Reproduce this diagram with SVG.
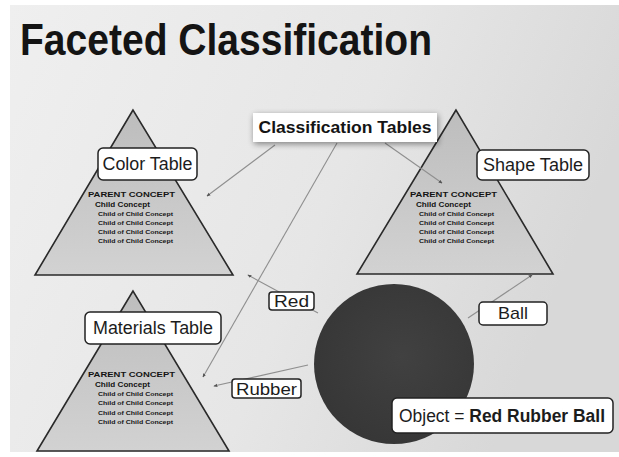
<svg xmlns="http://www.w3.org/2000/svg" width="619" height="457" viewBox="0 0 619 457">
<defs>
<linearGradient id="bg" x1="0" y1="0" x2="1" y2="0.3">
<stop offset="0" stop-color="#efefef"/>
<stop offset="0.6" stop-color="#e6e6e6"/>
<stop offset="1" stop-color="#d8d8d8"/>
</linearGradient>
<linearGradient id="tri" x1="0" y1="0" x2="0" y2="1">
<stop offset="0" stop-color="#bdbdbd"/>
<stop offset="1" stop-color="#d2d2d2"/>
</linearGradient>
<radialGradient id="ball" cx="0.55" cy="0.45" r="0.6">
<stop offset="0" stop-color="#414141"/>
<stop offset="1" stop-color="#363636"/>
</radialGradient>
<filter id="shadow" x="-20%" y="-50%" width="140%" height="200%">
<feGaussianBlur in="SourceAlpha" stdDeviation="3"/>
<feOffset dx="1" dy="2" result="b"/>
<feComponentTransfer><feFuncA type="linear" slope="0.45"/></feComponentTransfer>
<feMerge><feMergeNode/><feMergeNode in="SourceGraphic"/></feMerge>
</filter>
<marker id="arr" viewBox="0 0 6 6" refX="5" refY="3" markerWidth="4" markerHeight="4" orient="auto" markerUnits="userSpaceOnUse">
<path d="M0,0.5 L6,3 L0,5.5 z" fill="#555"/>
</marker>
</defs>
<style>
.tri{fill:url(#tri);stroke:#2a2a2a;stroke-width:1.6}
.lbl{fill:#fff;stroke:#222;stroke-width:1.5}
.lt{font-family:"Liberation Sans",Arial,sans-serif;fill:#1c1c1c}
.tt{font-family:"Liberation Sans",Arial,sans-serif;font-weight:bold;fill:#141414}
.con{stroke:#8f8f8f;stroke-width:1.1;fill:none;marker-end:url(#arr)}
</style>
<rect x="0" y="0" width="619" height="457" fill="#fff"/>
<rect x="10" y="5" width="609" height="447" fill="url(#bg)"/>
<text id="title" x="20" y="55" class="tt" font-size="44" textLength="412" lengthAdjust="spacingAndGlyphs">Faceted Classification</text>

<g id="color-triangle">
<polygon class="tri" points="133,110 35,275 233,275"/>
<text class="tt" x="88" y="197" font-size="7" textLength="87" lengthAdjust="spacingAndGlyphs">PARENT CONCEPT</text>
<text class="tt" x="95" y="207" font-size="6.5" textLength="55" lengthAdjust="spacingAndGlyphs">Child Concept</text>
<text class="tt" x="98" y="216" font-size="6" textLength="75" lengthAdjust="spacingAndGlyphs">Child of Child Concept</text>
<text class="tt" x="98" y="225" font-size="6" textLength="75" lengthAdjust="spacingAndGlyphs">Child of Child Concept</text>
<text class="tt" x="98" y="234" font-size="6" textLength="75" lengthAdjust="spacingAndGlyphs">Child of Child Concept</text>
<text class="tt" x="98" y="243" font-size="6" textLength="75" lengthAdjust="spacingAndGlyphs">Child of Child Concept</text>
</g>

<g id="shape-triangle">
<polygon class="tri" points="456,110 357,274 553,274"/>
<text class="tt" x="410" y="197" font-size="7" textLength="87" lengthAdjust="spacingAndGlyphs">PARENT CONCEPT</text>
<text class="tt" x="416" y="207" font-size="6.5" textLength="55" lengthAdjust="spacingAndGlyphs">Child Concept</text>
<text class="tt" x="419" y="216" font-size="6" textLength="75" lengthAdjust="spacingAndGlyphs">Child of Child Concept</text>
<text class="tt" x="419" y="225" font-size="6" textLength="75" lengthAdjust="spacingAndGlyphs">Child of Child Concept</text>
<text class="tt" x="419" y="234" font-size="6" textLength="75" lengthAdjust="spacingAndGlyphs">Child of Child Concept</text>
<text class="tt" x="419" y="243" font-size="6" textLength="75" lengthAdjust="spacingAndGlyphs">Child of Child Concept</text>
</g>

<g id="materials-triangle">
<polygon class="tri" points="133,291 37,451 229,451"/>
<text class="tt" x="88" y="377" font-size="7" textLength="87" lengthAdjust="spacingAndGlyphs">PARENT CONCEPT</text>
<text class="tt" x="95" y="387" font-size="6.5" textLength="55" lengthAdjust="spacingAndGlyphs">Child Concept</text>
<text class="tt" x="98" y="396" font-size="6" textLength="75" lengthAdjust="spacingAndGlyphs">Child of Child Concept</text>
<text class="tt" x="98" y="405" font-size="6" textLength="75" lengthAdjust="spacingAndGlyphs">Child of Child Concept</text>
<text class="tt" x="98" y="415" font-size="6" textLength="75" lengthAdjust="spacingAndGlyphs">Child of Child Concept</text>
<text class="tt" x="98" y="424" font-size="6" textLength="75" lengthAdjust="spacingAndGlyphs">Child of Child Concept</text>
</g>

<g id="object-ball">
<circle cx="394" cy="364" r="80" fill="url(#ball)"/>
</g>

<g id="connectors">
<line class="con" x1="275" y1="145" x2="207" y2="196"/>
<line class="con" x1="337" y1="143" x2="203" y2="377"/>
<line class="con" x1="385" y1="143" x2="442" y2="183"/>
<line class="con" x1="318" y1="313" x2="248" y2="275"/>
<line class="con" x1="308" y1="365" x2="214" y2="386"/>
<line class="con" x1="468" y1="318" x2="532" y2="275"/>
</g>

<g id="classification-tables">
<rect x="253" y="113" width="184" height="29" fill="#fff" filter="url(#shadow)"/>
<text class="tt" x="345" y="133" font-size="17" text-anchor="middle" textLength="173" lengthAdjust="spacingAndGlyphs">Classification Tables</text>
</g>

<g id="color-table">
<rect class="lbl" x="98" y="148" width="99" height="32" rx="5"/>
<text class="lt" x="147.5" y="170" font-size="17.5" text-anchor="middle" textLength="90" lengthAdjust="spacingAndGlyphs">Color Table</text>
</g>

<g id="shape-table">
<rect class="lbl" x="477" y="150" width="112" height="30" rx="5"/>
<text class="lt" x="533" y="171" font-size="17.5" text-anchor="middle" textLength="100" lengthAdjust="spacingAndGlyphs">Shape Table</text>
</g>

<g id="materials-table">
<rect class="lbl" x="85" y="312" width="136" height="32" rx="5"/>
<text class="lt" x="153" y="334" font-size="17.5" text-anchor="middle" textLength="120" lengthAdjust="spacingAndGlyphs">Materials Table</text>
</g>

<g id="red">
<rect class="lbl" x="269" y="292" width="45" height="18" rx="3"/>
<text class="lt" x="291.5" y="307" font-size="16" text-anchor="middle" textLength="35" lengthAdjust="spacingAndGlyphs">Red</text>
</g>

<g id="ball-label">
<rect class="lbl" x="479" y="302" width="68" height="23" rx="4"/>
<text class="lt" x="513" y="319" font-size="17" text-anchor="middle" textLength="30" lengthAdjust="spacingAndGlyphs">Ball</text>
</g>

<g id="rubber">
<rect class="lbl" x="232" y="379" width="69" height="19" rx="3"/>
<text class="lt" x="266.5" y="395" font-size="17" text-anchor="middle" textLength="61" lengthAdjust="spacingAndGlyphs">Rubber</text>
</g>

<g id="object-label">
<rect class="lbl" x="392" y="398" width="221" height="35" rx="5"/>
<text class="lt" x="399" y="422" font-size="18" textLength="206" lengthAdjust="spacingAndGlyphs">Object = <tspan font-weight="bold">Red Rubber Ball</tspan></text>
</g>
</svg>
